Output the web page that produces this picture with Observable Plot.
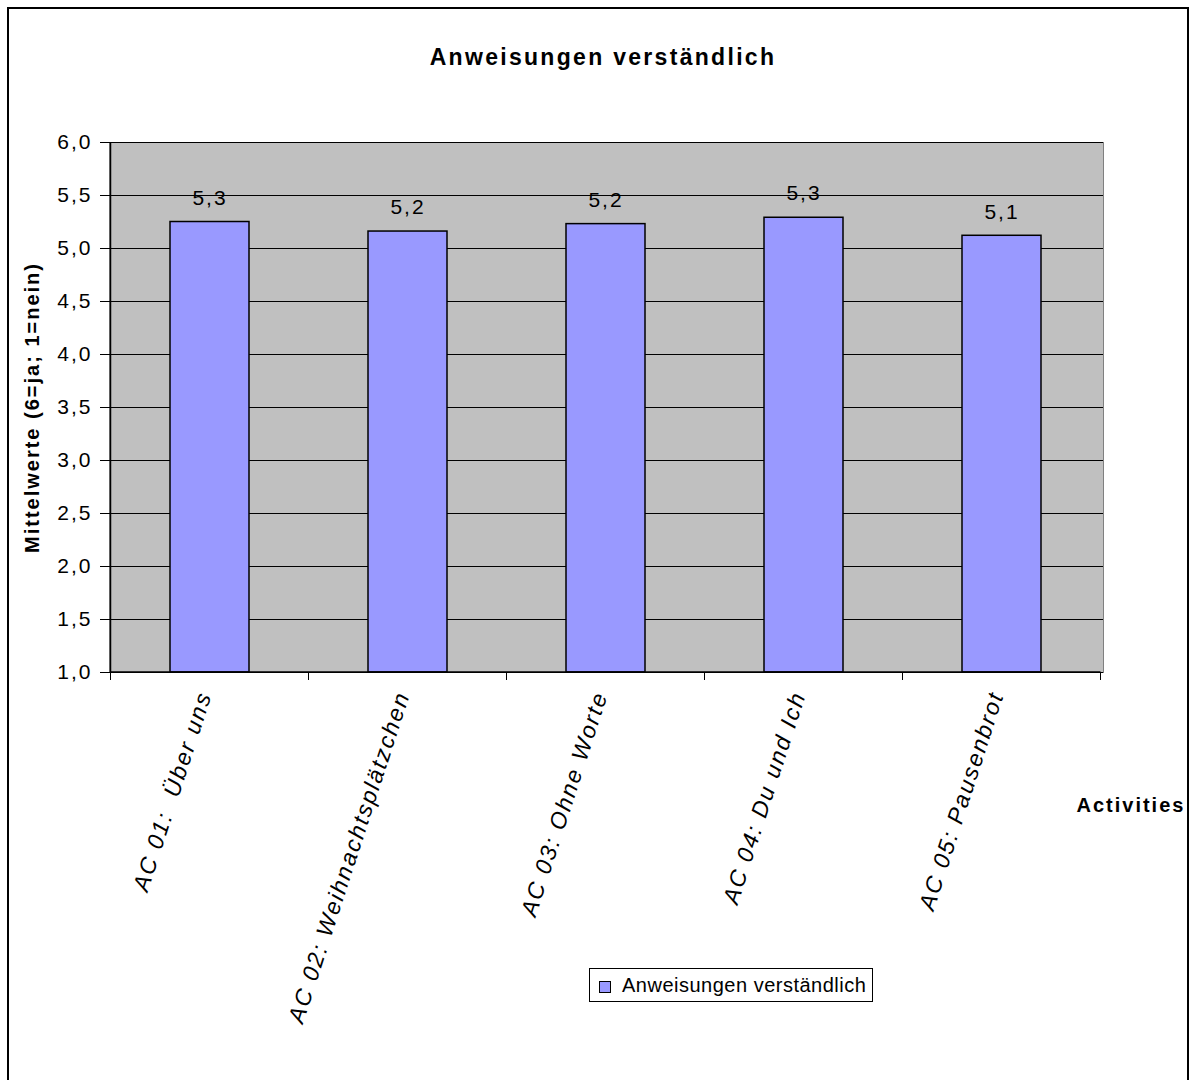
<!DOCTYPE html>
<html>
<head>
<meta charset="utf-8">
<script src="https://cdn.jsdelivr.net/npm/d3@7"></script>
<script src="https://cdn.jsdelivr.net/npm/@observablehq/plot@0.6"></script>
<style>
html, body { margin: 0; padding: 0; background: #fff; width: 1192px; height: 1080px; overflow: hidden; }
body { position: relative; font-family: "Liberation Sans", Arial, sans-serif; }
#border { position: absolute; left: 7px; top: 7px; width: 1182px; height: 1200px; border: 2px solid #000; box-sizing: border-box; }
#title { position: absolute; left: 7px; top: 44px; width: 1192px; text-align: center; font: bold 23px "Liberation Sans", Arial, sans-serif; line-height: 26px; letter-spacing: 2.3px; }
#chart { position: absolute; left: 0; top: 100px; }
#chart svg text { letter-spacing: 2px; }
#legend { position: absolute; left: 589px; top: 968px; width: 284px; height: 34px; border: 1px solid #000; box-sizing: border-box; background: #fff; }
#legend .sw { position: absolute; left: 9px; top: 12px; width: 12px; height: 12px; background: #9999ff; border: 1px solid #000; box-sizing: border-box; }
#legend .lt { position: absolute; left: 32px; top: 0; line-height: 32px; font-size: 20px; letter-spacing: 0.5px; white-space: nowrap; }
</style>
</head>
<body>
<div id="border"></div>
<div id="title"></div>
<div id="chart"></div>
<div id="legend"><div class="sw"></div><div class="lt"></div></div>
<script>
const chartTitle = "Anweisungen verständlich";
const seriesName = "Anweisungen verständlich";
const yTitle = "Mittelwerte (6=ja; 1=nein)";
const xTitle = "Activities";
const categories = [
  "AC 01:  Über uns",
  "AC 02: Weihnachtsplätzchen",
  "AC 03: Ohne Worte",
  "AC 04: Du und Ich",
  "AC 05: Pausenbrot"
];
const values = [5.25, 5.16, 5.23, 5.29, 5.12];
const yTicks = [1.0, 1.5, 2.0, 2.5, 3.0, 3.5, 4.0, 4.5, 5.0, 5.5, 6.0];
const yDomain = [1, 6];

document.getElementById("title").textContent = chartTitle;
document.querySelector("#legend .lt").textContent = seriesName;

const data = categories.map((c, i) => ({cat: c, value: values[i]}));
const fmt = v => v.toFixed(1).replace(".", ",");
const FONT = '"Liberation Sans", Arial, sans-serif';

// boundary ticks and axis lines, computed from the band scale
function boundaryTicks(index, scales, values, dims) {
  const x = scales.x, y = scales.y;
  const step = x.step(), bw = x.bandwidth();
  const off = (step - bw) / 2;
  const xs = categories.map(c => x(c) - off);
  xs.push(x(categories[categories.length - 1]) + bw + off);
  const y0 = y(yDomain[0]), y1 = y(yDomain[1]);
  const g = d3.create("svg:g");
  g.selectAll("line.t").data(xs).join("line")
    .attr("x1", d => d).attr("x2", d => d)
    .attr("y1", y0).attr("y2", y0 + 8)
    .attr("stroke", "#000").attr("stroke-width", 1);
  g.append("line")
    .attr("x1", xs[0]).attr("x2", xs[0]).attr("y1", y1).attr("y2", y0)
    .attr("stroke", "#000").attr("stroke-width", 1.5);
  g.append("line")
    .attr("x1", xs[0]).attr("x2", xs[xs.length - 1]).attr("y1", y0).attr("y2", y0)
    .attr("stroke", "#000").attr("stroke-width", 1.5);
  return g.node();
}

const plot = Plot.plot({
  width: 1192,
  height: 840,
  marginTop: 42,
  marginBottom: 268,
  marginLeft: 109,
  marginRight: 89,
  style: {fontFamily: FONT, fontSize: "21px", color: "#000", background: "transparent", overflow: "visible"},
  x: {domain: categories, paddingInner: 0.6, paddingOuter: 0.3, axis: null},
  y: {domain: yDomain, axis: null},
  marks: [
    Plot.frame({fill: "#c0c0c0", stroke: "#808080"}),
    Plot.gridY(yTicks, {stroke: "#000", strokeOpacity: 1, strokeWidth: 1}),
    Plot.axisY(yTicks, {
      tickSize: 9, tickPadding: 8, tickFormat: fmt, label: null,
      fontSize: 21, stroke: "#000"
    }),
    Plot.barY(data, {x: "cat", y1: yDomain[0], y2: "value", fill: "#9999ff", stroke: "#000", strokeWidth: 1.5}),
    Plot.text(data, {x: "cat", y: "value", text: d => fmt(d.value), dy: -24, dx: 0, fontSize: 21}),
    boundaryTicks,
    Plot.text(categories, {
      x: d => d, frameAnchor: "bottom", dx: 2, dy: 22, rotate: -72,
      textAnchor: "end", fontSize: 23, fontStyle: "italic", text: d => d
    }),
    Plot.text([yTitle], {frameAnchor: "left", dx: -77, rotate: -90, textAnchor: "middle", fontWeight: "bold", fontSize: 20, text: d => d}),
    Plot.text([xTitle], {frameAnchor: "bottom-right", dx: -27, dy: 139, textAnchor: "start", fontWeight: "bold", fontSize: 20, text: d => d})
  ]
});
document.getElementById("chart").appendChild(plot);
</script>
</body>
</html>
